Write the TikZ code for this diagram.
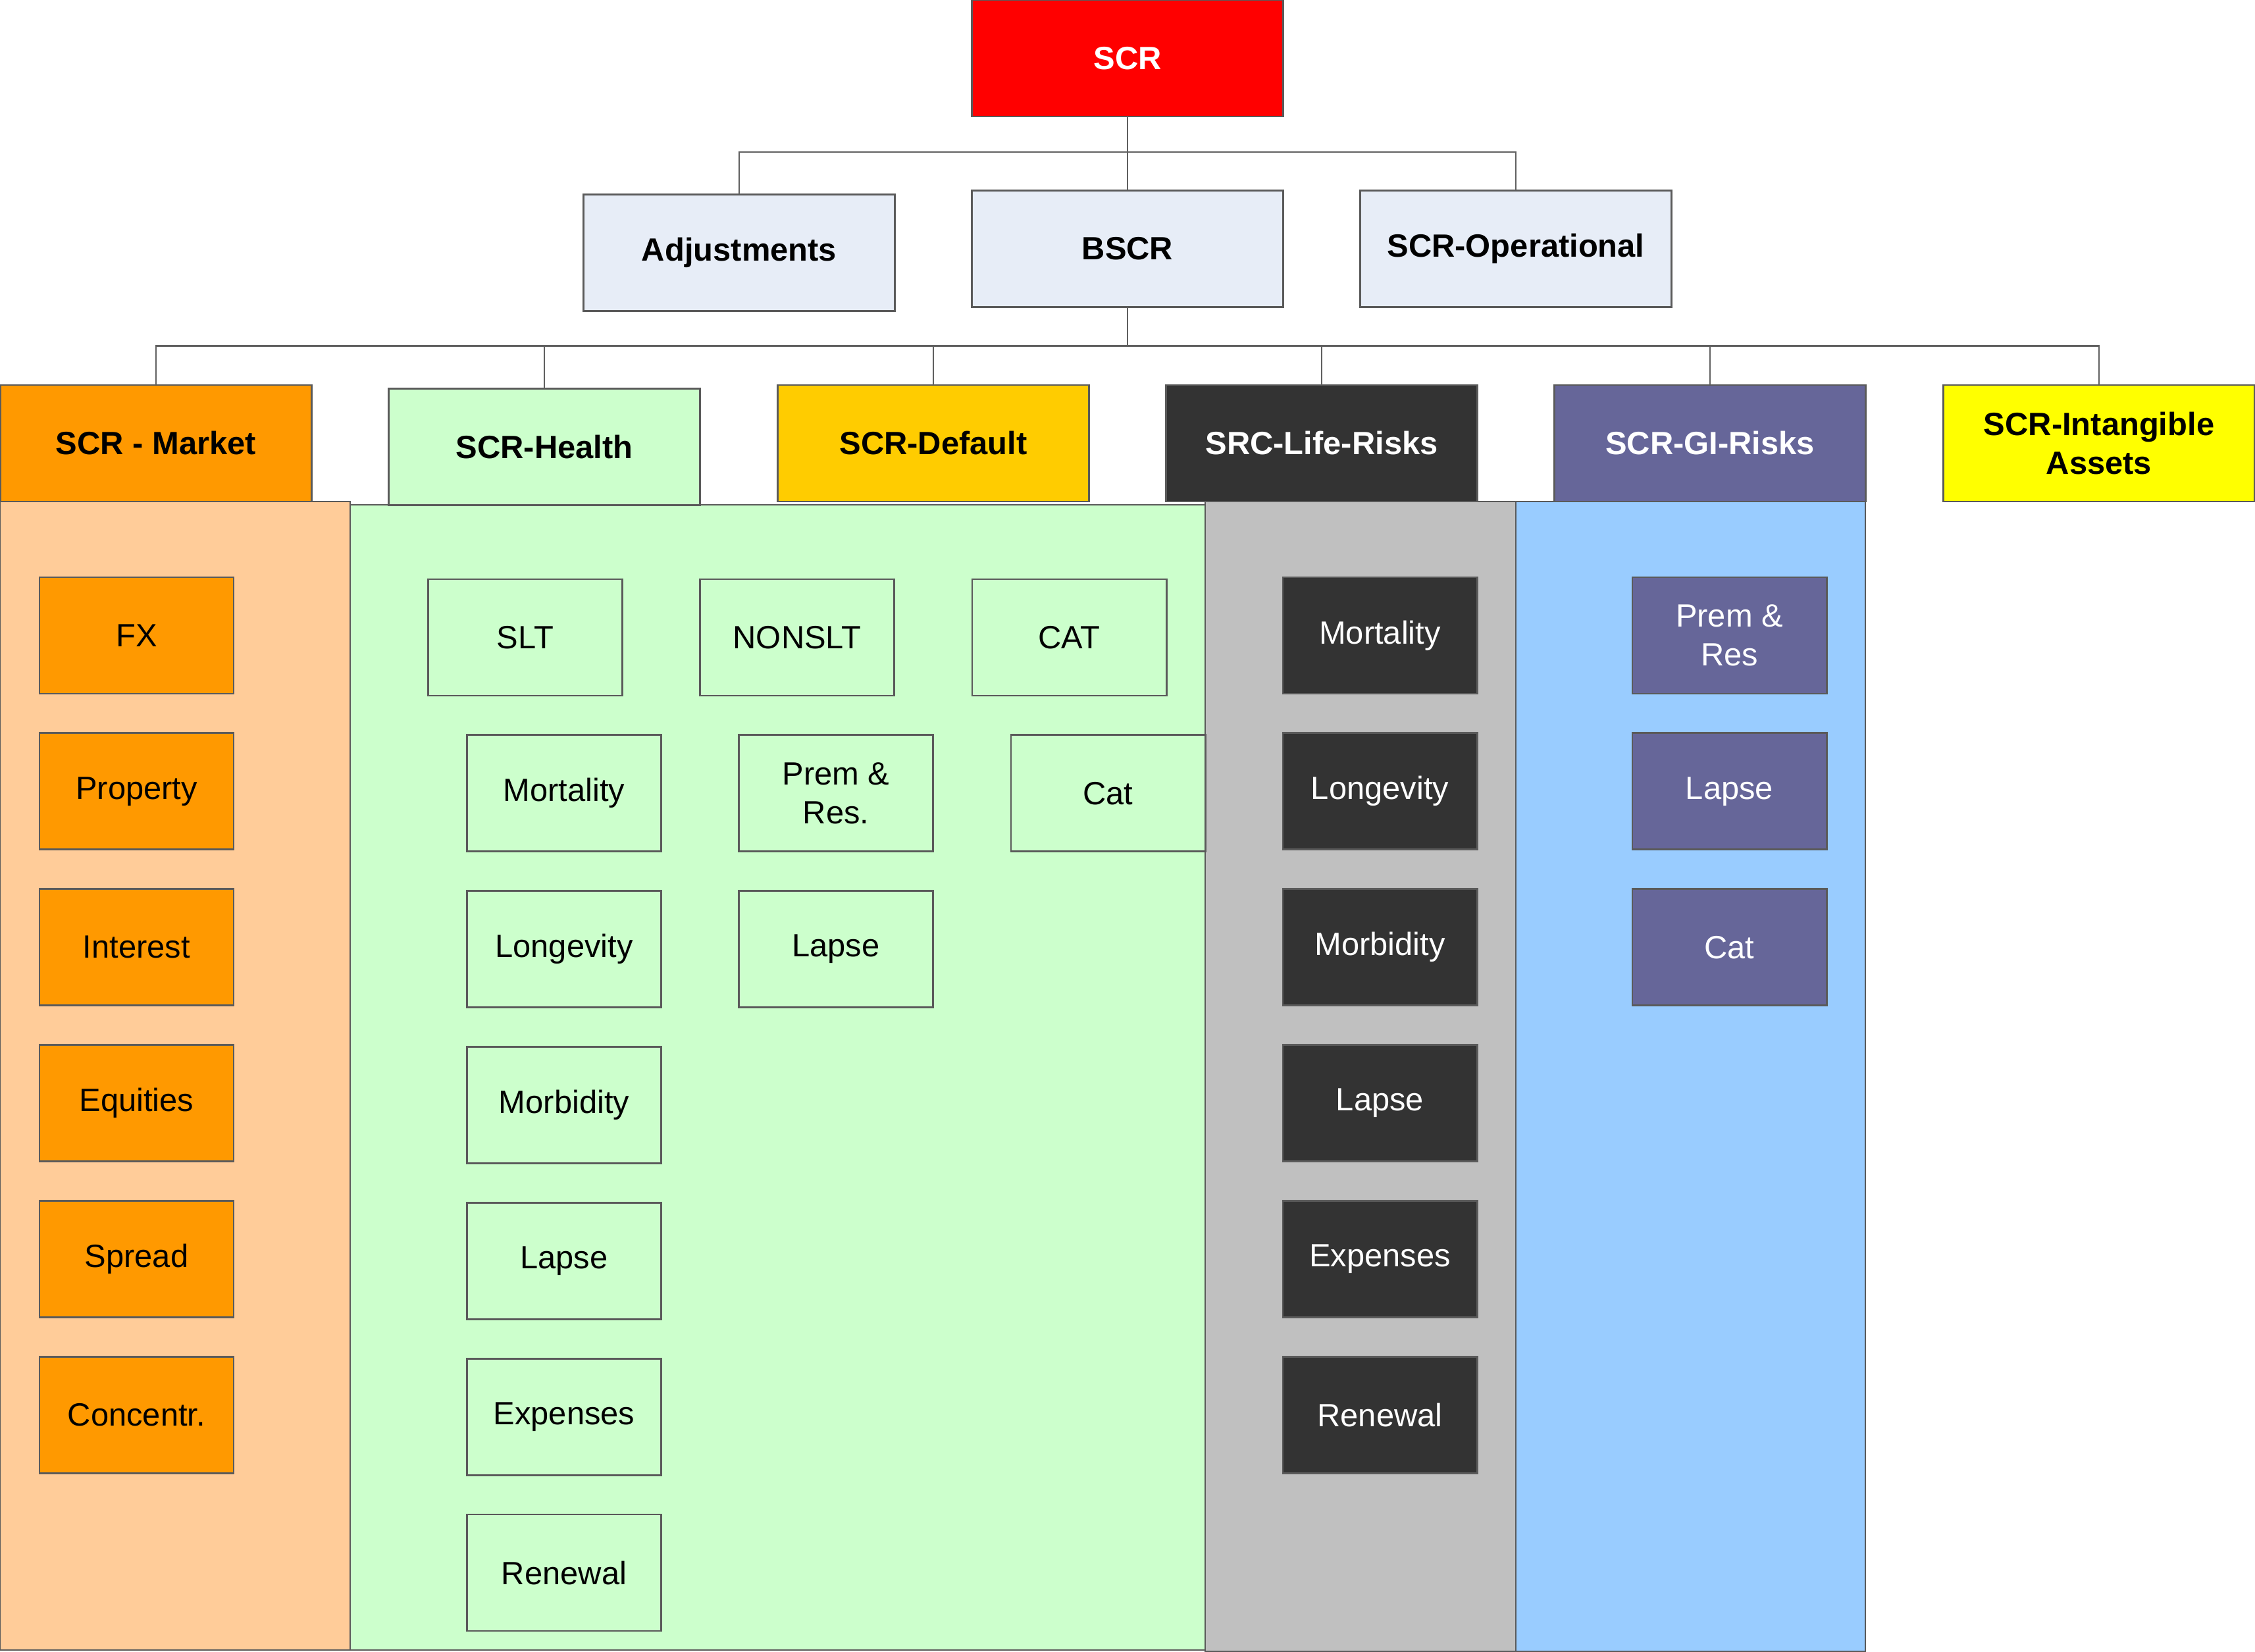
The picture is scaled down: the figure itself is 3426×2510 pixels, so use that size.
\documentclass[tikz,border=0pt]{standalone}
\usepackage{fontspec}
\setmainfont{Liberation Sans}
\usetikzlibrary{positioning}
\definecolor{scrred}{HTML}{FF0000}
\definecolor{paleblue}{HTML}{E7EDF7}
\definecolor{mktorange}{HTML}{FF9900}
\definecolor{mktpanel}{HTML}{FFCC99}
\definecolor{healthgreen}{HTML}{CCFFCC}
\definecolor{defaultgold}{HTML}{FFCC00}
\definecolor{lifedark}{HTML}{333333}
\definecolor{lifepanel}{HTML}{C0C0C0}
\definecolor{gipurple}{HTML}{666699}
\definecolor{gipanel}{HTML}{99CCFF}
\definecolor{intyellow}{HTML}{FFFF00}
\definecolor{edgegray}{HTML}{5A5A5A}
\definecolor{linkgray}{HTML}{606060}
\newcommand{\labelfont}{\fontsize{13.9}{16.8}\selectfont}

\begin{document}
\begin{tikzpicture}[
  x=0.01cm,y=-0.01cm,
  node distance=5.97mm,
  head/.style={draw=edgegray,line width=0.8pt,minimum width=4.72cm,minimum height=1.77cm,inner sep=0pt,outer sep=0pt,align=center,font=\labelfont\bfseries},
  item/.style={draw=edgegray,line width=0.8pt,minimum width=2.95cm,minimum height=1.77cm,inner sep=0pt,outer sep=0pt,align=center,font=\labelfont},
  panel/.style={draw=edgegray,line width=0.6pt},
  link/.style={draw=linkgray,line width=0.7pt}
]
\useasboundingbox (0,0) rectangle (3426,2510);
\draw[panel,fill=mktpanel] (0,762) rectangle (532,2507);
\draw[panel,fill=healthgreen] (532,767) rectangle (1831,2507);
\draw[panel,fill=lifepanel] (1831,762) rectangle (2303,2509);
\draw[panel,fill=gipanel] (2303,762) rectangle (2834,2509);
\node[head,fill=scrred,text=white] (scr) at (1713,88.5) {SCR};
\node[head,fill=paleblue] (adjust) at (1123,384) {Adjustments};
\node[head,fill=paleblue] (bscr) at (1713,378) {BSCR};
\node[head,fill=paleblue] (oper) at (2303,378) {SCR-Operational};
\node[head,fill=mktorange] (market) at (237,673.5) {SCR - Market};
\node[head,fill=healthgreen] (health) at (827,679) {SCR-Health};
\node[head,fill=defaultgold] (default) at (1418,673.5) {SCR-Default};
\node[head,fill=lifedark,text=white] (life) at (2008,673.5) {SRC-Life-Risks};
\node[head,fill=gipurple,text=white] (gi) at (2598,673.5) {SCR-GI-Risks};
\node[head,fill=intyellow] (intang) at (3189,673.5) {SCR-Intangible\\Assets};
\coordinate (topbus) at (1713,231);
\coordinate (midbus) at (1713,525.5);
\draw[link] (scr.south) -- (bscr.north);
\draw[link] (adjust.north) |- (topbus) -| (oper.north);
\draw[link] (bscr.south) -- (midbus);
\draw[link] (market.north) |- (midbus) -| (intang.north);
\draw[link] (health.north) -- (health.north |- midbus);
\draw[link] (default.north) -- (default.north |- midbus);
\draw[link] (life.north) -- (life.north |- midbus);
\draw[link] (gi.north) -- (gi.north |- midbus);
\node[item,fill=mktorange] (fx) at (207.5,965.5) {FX};
\node[item,fill=mktorange,below=of fx] (property) {Property};
\node[item,fill=mktorange,below=of property] (interest) {Interest};
\node[item,fill=mktorange,below=of interest] (equities) {Equities};
\node[item,fill=mktorange,below=of equities] (spread) {Spread};
\node[item,fill=mktorange,below=of spread] (concentr) {Concentr.};
\node[item,fill=healthgreen] (slt) at (798,968.5) {SLT};
\node[item,fill=healthgreen] (nonslt) at (1211,968.5) {NONSLT};
\node[item,fill=healthgreen] (cat) at (1624.5,968.5) {CAT};
\node[item,fill=healthgreen,below=of slt,xshift=5.9mm] (hmort) {Mortality};
\node[item,fill=healthgreen,below=of hmort] (hlong) {Longevity};
\node[item,fill=healthgreen,below=of hlong] (hmorb) {Morbidity};
\node[item,fill=healthgreen,below=of hmorb] (hlapse) {Lapse};
\node[item,fill=healthgreen,below=of hlapse] (hexp) {Expenses};
\node[item,fill=healthgreen,below=of hexp] (hrenew) {Renewal};
\node[item,fill=healthgreen,below=of nonslt,xshift=5.9mm] (hprem) {Prem \&\\Res.};
\node[item,fill=healthgreen,below=of hprem] (hnlapse) {Lapse};
\node[item,fill=healthgreen,below=of cat,xshift=5.9mm] (hcat) {Cat};
\node[item,fill=lifedark,text=white] (lmort) at (2096.5,965.5) {Mortality};
\node[item,fill=lifedark,text=white,below=of lmort] (llong) {Longevity};
\node[item,fill=lifedark,text=white,below=of llong] (lmorb) {Morbidity};
\node[item,fill=lifedark,text=white,below=of lmorb] (llapse) {Lapse};
\node[item,fill=lifedark,text=white,below=of llapse] (lexp) {Expenses};
\node[item,fill=lifedark,text=white,below=of lexp] (lrenew) {Renewal};
\node[item,fill=gipurple,text=white] (giprem) at (2627.5,965.5) {Prem \&\\Res};
\node[item,fill=gipurple,text=white,below=of giprem] (gilapse) {Lapse};
\node[item,fill=gipurple,text=white,below=of gilapse] (gicat) {Cat};
\end{tikzpicture}
\end{document}
